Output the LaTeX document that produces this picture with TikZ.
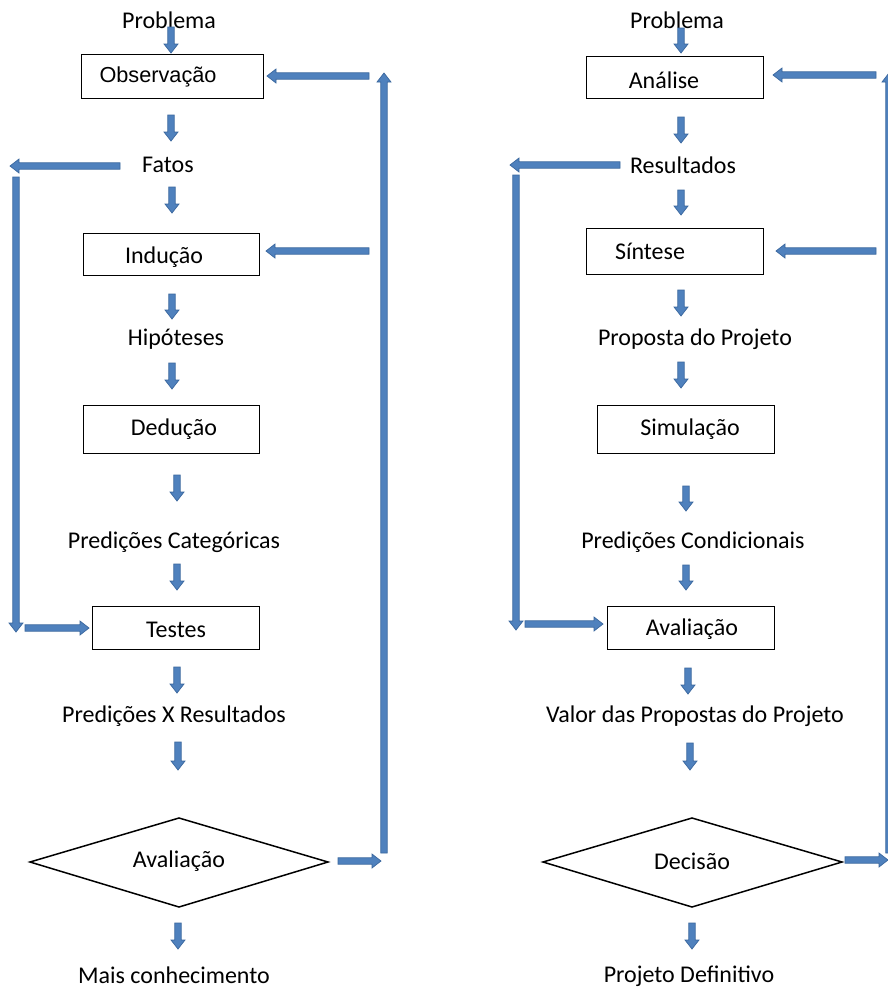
\documentclass[tikz,border=0pt]{standalone}
\usepackage{fontspec}
\setmainfont{Carlito}
\newfontfamily\arialf{Liberation Sans}
\usetikzlibrary{calc}
\definecolor{arrfill}{HTML}{4F81BD}
\definecolor{arrline}{HTML}{3A679E}
\tikzset{
  blockarrow/.style={fill=arrfill, draw=arrline, line width=0.7pt, line join=miter},
  box/.style={draw=black, line width=1pt, inner sep=0pt, rectangle},
  lbl/.style={inner sep=0pt, font=\fontsize{24}{28}\selectfont, anchor=center},
  rhomb/.style={draw=black, line width=1.5pt, line join=miter},
}
% block arrow from named coordinate #1 to named coordinate #2
\newcommand\blk[2]{%
  \filldraw[blockarrow] let \p1=(#1), \p2=(#2),
    \n1={veclen(\x2-\x1,\y2-\y1)},
    \n2={(\x2-\x1)/\n1}, \n3={(\y2-\y1)/\n1} in
    ({\x1-\n3*3.2pt},{\y1+\n2*3.2pt})
 -- ({\x2-\n2*9pt-\n3*3.2pt},{\y2-\n3*9pt+\n2*3.2pt})
 -- ({\x2-\n2*9pt-\n3*7pt},{\y2-\n3*9pt+\n2*7pt})
 -- (\x2,\y2)
 -- ({\x2-\n2*9pt+\n3*7pt},{\y2-\n3*9pt-\n2*7pt})
 -- ({\x2-\n2*9pt+\n3*3.2pt},{\y2-\n3*9pt-\n2*3.2pt})
 -- ({\x1+\n3*3.2pt},{\y1-\n2*3.2pt}) -- cycle;}
\newcommand\arr[3]{\coordinate (#1s) at (#2); \coordinate (#1e) at (#3); \blk{#1s}{#1e}}
\begin{document}
\begin{tikzpicture}[x=1pt,y=-1pt]
\useasboundingbox (0,0) rectangle (888,989);
\clip (0,0) rectangle (888,989);
\fill[white] (0,0) rectangle (888,989);

% ---------- left column ----------
\node[box, minimum width=182, minimum height=44] (obs) at (172,76) {};
\node[box, minimum width=176, minimum height=42] (ind) at (171,254) {};
\node[box, minimum width=176, minimum height=48] (ded) at (171,429) {};
\node[box, minimum width=167, minimum height=43] (tes) at (175.5,627.5) {};
\draw[rhomb] (30,862) coordinate (dl) -- (179,818) -- (328,862) -- (179,907) -- cycle;

\node[lbl] (probL) at (169,20) {Problema};
\node[lbl, font=\arialf\fontsize{21.7}{25}\selectfont] (obsT) at (158,77) {Observação};
\node[lbl] (fatos) at (168,165) {Fatos};
\node[lbl] (indT) at (164,257) {Indução};
\node[lbl] (hip) at (176,339) {Hipóteses};
\node[lbl] (dedT) at (174,429) {Dedução};
\node[lbl] (predC) at (174,542) {Predições Categóricas};
\node[lbl] (tesT) at (176,630) {Testes};
\node[lbl] (predX) at (174,716) {Predições X Resultados};
\node[lbl] (avL) at (179,861) {Avaliação};
\node[lbl] (mais) at (174,975) {Mais conhecimento};

\arr{a1}{171,27}{171,53}
\arr{a2}{369,76}{267,76}
\arr{a3}{384,853}{384,73}
\arr{a4}{171,115}{171,141}
\arr{a5}{120,166}{10,166}
\arr{a6}{16,177}{16,632}
\arr{a7}{172,187}{172,213}
\arr{a8}{369,251}{266,251}
\arr{a9}{172,294}{172,319}
\arr{a10}{172,363}{172,389}
\arr{a11}{177,475}{177,501}
\arr{a12}{177,564}{177,590}
\arr{a13}{25,628}{89,628}
\arr{a14}{177,667}{177,693}
\arr{a15}{178,742}{178,770}
\arr{a16}{338,861}{381,861}
\arr{a17}{178,923}{178,949}

% ---------- right column ----------
\node[box, minimum width=177, minimum height=42] (ana) at (674.5,77) {};
\node[box, minimum width=177, minimum height=46] (sin) at (674.5,251) {};
\node[box, minimum width=177, minimum height=48] (sim) at (685.5,429) {};
\node[box, minimum width=167, minimum height=43] (avr) at (690.5,627.5) {};
\draw[rhomb] (543,862) -- (692,818) -- (842,862) -- (692,907) -- cycle;

\node[lbl] (probR) at (677,20) {Problema};
\node[lbl] (anaT) at (664,80) {Análise};
\node[lbl] (res) at (683,165) {Resultados};
\node[lbl] (sinT) at (650,251) {Síntese};
\node[lbl] (prop) at (695,339) {Proposta do Projeto};
\node[lbl] (simT) at (690,429) {Simulação};
\node[lbl] (predCo) at (693,542) {Predições Condicionais};
\node[lbl] (avrT) at (692,629) {Avaliação};
\node[lbl] (valor) at (695,716) {Valor das Propostas do Projeto};
\node[lbl] (dec) at (692,861) {Decisão};
\node[lbl] (projD) at (689,976) {Projeto Definitivo};

\arr{b1}{681,28}{681,53}
\arr{b2}{876,75}{773,75}
\arr{b3}{889,853}{889,73}
\arr{b4}{681,117}{681,143}
\arr{b5}{620,165}{510,165}
\arr{b6}{516,175}{516,630}
\arr{b7}{681,190}{681,215}
\arr{b8}{876,251}{776,251}
\arr{b9}{681,290}{681,316}
\arr{b10}{681,362}{681,388}
\arr{b11}{686,486}{686,511}
\arr{b12}{686,565}{686,590}
\arr{b13}{525,624}{603,624}
\arr{b14}{688,668}{688,694}
\arr{b15}{690,743}{690,770}
\arr{b16}{845,860}{888,860}
\arr{b17}{692,923}{692,949}
\end{tikzpicture}
\end{document}
